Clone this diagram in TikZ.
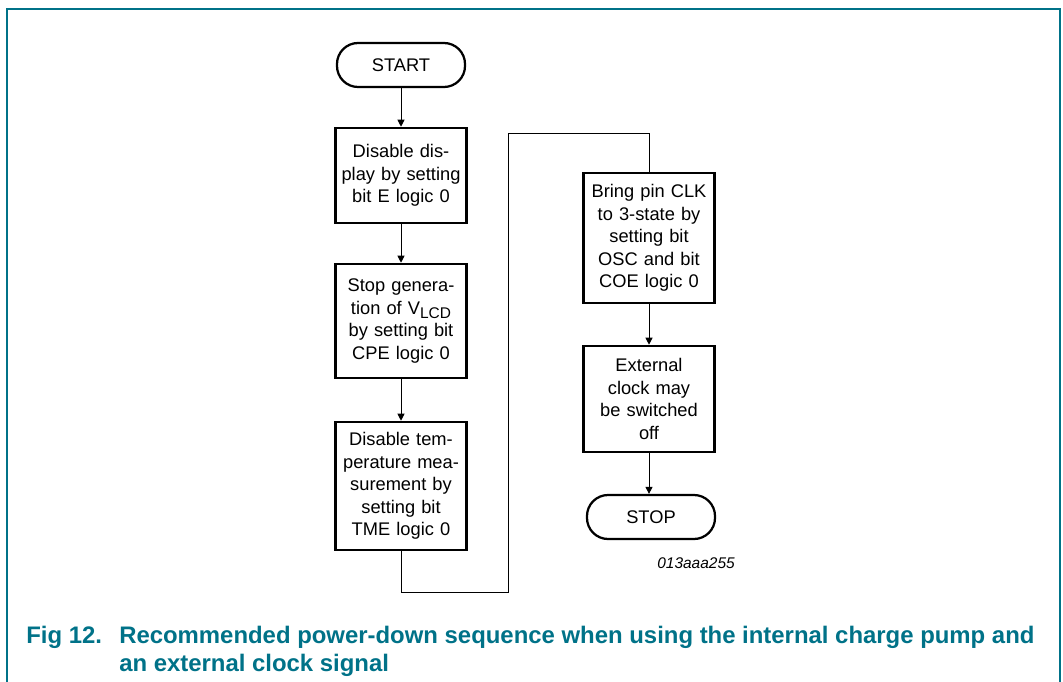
\documentclass[tikz,border=0pt]{standalone}
\usepackage{fontspec}
\setmainfont{Liberation Sans}
\usetikzlibrary{arrows.meta}
\definecolor{nxpteal}{RGB}{0,114,136}

\begin{document}
\begin{tikzpicture}[x=0.025cm, y=-0.025cm,
  stepbox/.style={draw, line width=1.8pt, minimum width=3.275cm, text width=3.25cm,
    align=center, inner xsep=0pt, inner ysep=0pt, font=\fontsize{13}{16}\selectfont},
  termbox/.style={draw, line width=1.6pt, rounded corners=15pt, minimum width=3.2cm,
    minimum height=1.1cm, font=\fontsize{13}{16}\selectfont},
  flow/.style={line width=0.7pt, -{Triangle[length=5pt,width=5pt]}},
  link/.style={line width=0.7pt}]

\useasboundingbox (0,0) rectangle (1063,682);

% frame
\draw[nxpteal, line width=1.1pt] (7,682) -- (7,9) -- (1060,9) -- (1060,682);

% left column
\node[termbox] (start) at (401,65) {START};
\node[stepbox, minimum height=2.375cm] (disp) at (401,175.5) {Disable dis-\\play by setting\\bit E logic 0};
\node[stepbox, minimum height=2.85cm] (vlcd) at (401,321) {Stop genera-\\tion of V\raisebox{-0.45ex}{\fontsize{11}{12}\selectfont LCD}\\by setting bit\\CPE logic 0};
\node[stepbox, minimum height=3.2cm] (temp) at (401,486) {Disable tem-\\perature mea-\\surement by\\setting bit\\TME logic 0};

% right column
\node[stepbox, minimum height=3.25cm] (clk) at (649,238) {Bring pin CLK\\to 3-state by\\setting bit\\OSC and bit\\COE logic 0};
\node[stepbox, minimum height=2.65cm] (ext) at (649,399) {External\\clock may\\be switched\\off};
\node[termbox] (stop) at (651,517) {STOP};

\node[font=\fontsize{11}{13}\selectfont\itshape] (code) at (696,563) {013aaa255};

% connectors
\draw[flow] (start) -- (disp);
\draw[flow] (disp) -- (vlcd);
\draw[flow] (vlcd) -- (temp);
\coordinate (low) at (401,592);
\coordinate (lowr) at (508,592);
\coordinate (top) at (508,133);
\coordinate (topr) at (649,133);
\draw[link] (temp.south) -- (low) -- (lowr) -- (top) -- (topr) -- (clk.north);
\draw[flow] (clk) -- (ext);
\draw[flow] (ext.south) -- (stop.north -| ext.south);

% caption
\node[anchor=base west, text=nxpteal, font=\fontsize{17}{22}\selectfont\bfseries, inner sep=0pt] (fignum) at (26,643) {Fig 12.};
\node[anchor=base west, text=nxpteal, font=\fontsize{17}{22}\selectfont\bfseries, inner sep=0pt] (figtxt1) at (119,643) {Recommended power-down sequence when using the internal charge pump and};
\node[anchor=base west, text=nxpteal, font=\fontsize{17}{22}\selectfont\bfseries, inner sep=0pt] (figtxt2) at (119,671) {an external clock signal};

\end{tikzpicture}
\end{document}
